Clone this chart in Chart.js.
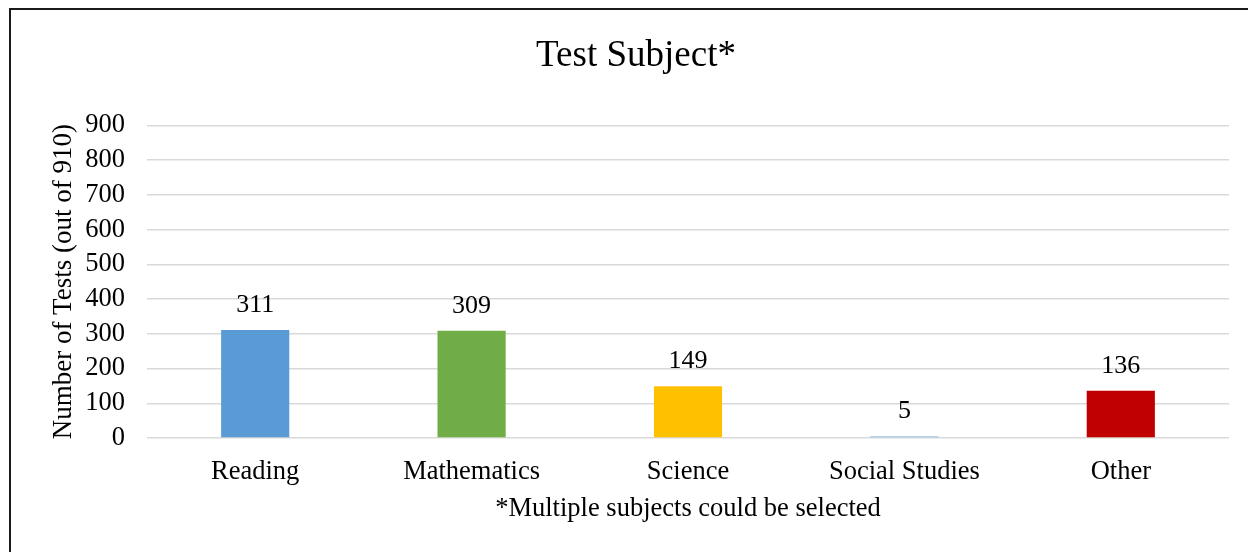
<!DOCTYPE html>
<html>
<head>
<meta charset="utf-8">
<script src="https://cdn.jsdelivr.net/npm/chart.js@4/dist/chart.umd.min.js"></script>
<style>
  body { margin: 0; background: #fff; overflow: hidden; }
  #wrap { position: relative; width: 1248px; height: 552px; }
  #frame { position: absolute; left: 9px; top: 8px; width: 1260px; height: 560px; border: 2px solid #1a1a1a; }
  canvas { position: absolute; left: 0; top: 0; }
</style>
</head>
<body>
<div id="wrap">
  <div id="frame"></div>
  <canvas id="myChart" width="1248" height="552"></canvas>
</div>
<script>
// chart data
const subjects = ["Reading", "Mathematics", "Science", "Social Studies", "Other"];
const testCounts = [311, 309, 149, 5, 136];
const barColors = ["#5B9BD5", "#70AD47", "#FFC000", "#9DC3E6", "#C00000"];
const yTicks = [0, 100, 200, 300, 400, 500, 600, 700, 800, 900];

const serif = "'Liberation Serif', 'Times New Roman', serif";

// write the counts above each bar
const barLabels = {
  id: "barLabels",
  afterDatasetsDraw(chart) {
    const ctx = chart.ctx;
    const meta = chart.getDatasetMeta(0);
    ctx.save();
    ctx.font = "26px " + serif;
    ctx.fillStyle = "#000";
    ctx.textAlign = "center";
    ctx.textBaseline = "middle";
    meta.data.forEach(function(bar, i) {
      ctx.fillText(String(testCounts[i]), bar.x, bar.y - 25);
    });
    ctx.restore();
  }
};

let ctx = document.getElementById("myChart").getContext("2d");

let chart = new Chart(ctx, {
  type: "bar",
  data: {
    labels: subjects,
    datasets: [{
      data: testCounts,
      backgroundColor: barColors,
      borderWidth: 0,
      barPercentage: 0.315,
      categoryPercentage: 1
    }]
  },
  options: {
    responsive: false,
    animation: false,
    layout: { padding: { left: 43, right: 19, top: 0, bottom: 0 } },
    plugins: {
      legend: { display: false },
      tooltip: { enabled: false },
      title: {
        display: true,
        text: "Test Subject*",
        color: "#000",
        font: { family: serif, size: 37, weight: "normal" },
        padding: { top: 34, bottom: 47 }
      }
    },
    scales: {
      x: {
        grid: { display: false },
        border: { display: false },
        ticks: {
          color: "#000",
          font: { family: serif, size: 26.5 },
          padding: 10,
          maxRotation: 0,
          autoSkip: false
        },
        title: {
          display: true,
          text: "*Multiple subjects could be selected",
          color: "#000",
          font: { family: serif, size: 26.5 },
          padding: { top: 0, bottom: 27 }
        },
        afterFit(scale) { scale.height = 114; }
      },
      y: {
        min: 0,
        max: 900,
        afterBuildTicks(scale) { scale.ticks = yTicks.map(v => ({ value: v })); },
        grid: { color: "#d9d9d9", lineWidth: 1.5, drawTicks: false },
        border: { display: false },
        ticks: {
          color: "#000",
          font: { family: serif, size: 26.5 },
          padding: 22,
          autoSkip: false
        },
        title: {
          display: true,
          text: "Number of Tests (out of 910)",
          color: "#000",
          font: { family: serif, size: 27 },
          padding: { top: 5, bottom: 0 }
        },
        afterFit(scale) { scale.width = 104; }
      }
    }
  },
  plugins: [barLabels]
});
</script>
</body>
</html>
